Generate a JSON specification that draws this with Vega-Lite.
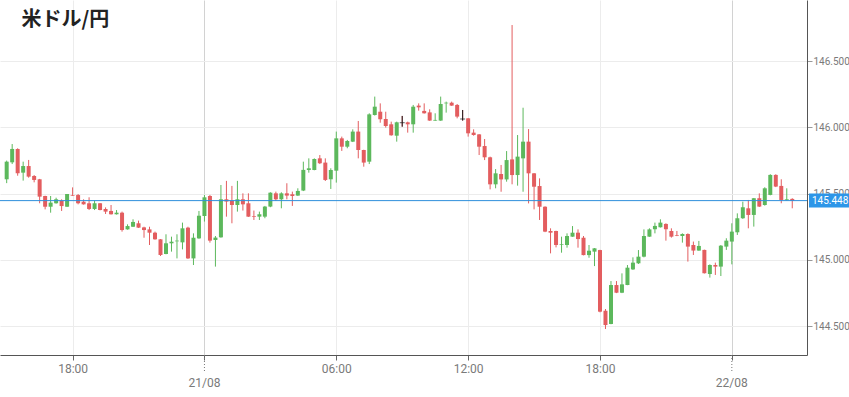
{
  "$schema": "https://vega.github.io/schema/vega-lite/v6.json",
  "width": 807,
  "height": 355,
  "autosize": {"type": "none"},
  "padding": {"left": 0, "top": 0, "right": 42, "bottom": 42},
  "background": "white",
  "config": {"view": {"stroke": null}, "font": "Roboto"},
  "title": {"text": "米ドル/円", "anchor": "start", "offset": -30, "dx": 22, "fontSize": 20, "fontWeight": "bold", "font": "Noto Sans CJK JP", "color": "#222222"},
  "layer": [
    {
      "data": {"values": [
        {"t": "2024-08-20T15:00", "o": 145.609, "h": 145.750, "l": 145.580, "c": 145.742},
        {"t": "2024-08-20T15:15", "o": 145.737, "h": 145.875, "l": 145.724, "c": 145.838},
        {"t": "2024-08-20T15:30", "o": 145.838, "h": 145.843, "l": 145.636, "c": 145.654},
        {"t": "2024-08-20T15:45", "o": 145.659, "h": 145.742, "l": 145.599, "c": 145.709},
        {"t": "2024-08-20T16:00", "o": 145.709, "h": 145.755, "l": 145.621, "c": 145.629},
        {"t": "2024-08-20T16:15", "o": 145.634, "h": 145.641, "l": 145.586, "c": 145.604},
        {"t": "2024-08-20T16:30", "o": 145.609, "h": 145.612, "l": 145.428, "c": 145.478},
        {"t": "2024-08-20T16:45", "o": 145.483, "h": 145.485, "l": 145.382, "c": 145.402},
        {"t": "2024-08-20T17:00", "o": 145.402, "h": 145.483, "l": 145.357, "c": 145.433},
        {"t": "2024-08-20T17:15", "o": 145.428, "h": 145.470, "l": 145.425, "c": 145.458},
        {"t": "2024-08-20T17:30", "o": 145.448, "h": 145.458, "l": 145.370, "c": 145.407},
        {"t": "2024-08-20T17:45", "o": 145.402, "h": 145.498, "l": 145.400, "c": 145.498},
        {"t": "2024-08-20T18:00", "o": 145.490, "h": 145.548, "l": 145.484, "c": 145.485},
        {"t": "2024-08-20T18:15", "o": 145.490, "h": 145.498, "l": 145.420, "c": 145.428},
        {"t": "2024-08-20T18:30", "o": 145.440, "h": 145.458, "l": 145.418, "c": 145.420},
        {"t": "2024-08-20T18:45", "o": 145.428, "h": 145.473, "l": 145.377, "c": 145.385},
        {"t": "2024-08-20T19:00", "o": 145.385, "h": 145.448, "l": 145.377, "c": 145.428},
        {"t": "2024-08-20T19:15", "o": 145.428, "h": 145.430, "l": 145.375, "c": 145.377},
        {"t": "2024-08-20T19:30", "o": 145.385, "h": 145.397, "l": 145.347, "c": 145.365},
        {"t": "2024-08-20T19:45", "o": 145.370, "h": 145.415, "l": 145.343, "c": 145.345},
        {"t": "2024-08-20T20:00", "o": 145.345, "h": 145.377, "l": 145.343, "c": 145.357},
        {"t": "2024-08-20T20:15", "o": 145.357, "h": 145.365, "l": 145.214, "c": 145.226},
        {"t": "2024-08-20T20:30", "o": 145.231, "h": 145.269, "l": 145.229, "c": 145.256},
        {"t": "2024-08-20T20:45", "o": 145.251, "h": 145.307, "l": 145.249, "c": 145.287},
        {"t": "2024-08-20T21:00", "o": 145.277, "h": 145.297, "l": 145.242, "c": 145.244},
        {"t": "2024-08-20T21:15", "o": 145.246, "h": 145.251, "l": 145.168, "c": 145.226},
        {"t": "2024-08-20T21:30", "o": 145.231, "h": 145.251, "l": 145.113, "c": 145.206},
        {"t": "2024-08-20T21:45", "o": 145.206, "h": 145.214, "l": 145.153, "c": 145.156},
        {"t": "2024-08-20T22:00", "o": 145.156, "h": 145.158, "l": 145.030, "c": 145.038},
        {"t": "2024-08-20T22:15", "o": 145.045, "h": 145.194, "l": 145.043, "c": 145.126},
        {"t": "2024-08-20T22:30", "o": 145.126, "h": 145.176, "l": 145.063, "c": 145.138},
        {"t": "2024-08-20T22:45", "o": 145.141, "h": 145.194, "l": 145.012, "c": 145.146},
        {"t": "2024-08-20T23:00", "o": 145.133, "h": 145.282, "l": 145.080, "c": 145.239},
        {"t": "2024-08-20T23:15", "o": 145.244, "h": 145.251, "l": 145.008, "c": 145.012},
        {"t": "2024-08-20T23:30", "o": 145.012, "h": 145.201, "l": 144.962, "c": 145.168},
        {"t": "2024-08-20T23:45", "o": 145.163, "h": 145.370, "l": 145.160, "c": 145.334},
        {"t": "2024-08-21T00:00", "o": 145.332, "h": 145.491, "l": 145.290, "c": 145.473},
        {"t": "2024-08-21T00:15", "o": 145.483, "h": 145.491, "l": 145.131, "c": 145.146},
        {"t": "2024-08-21T00:30", "o": 145.151, "h": 145.181, "l": 144.950, "c": 145.169},
        {"t": "2024-08-21T00:45", "o": 145.171, "h": 145.566, "l": 145.168, "c": 145.458},
        {"t": "2024-08-21T01:00", "o": 145.458, "h": 145.597, "l": 145.327, "c": 145.441},
        {"t": "2024-08-21T01:15", "o": 145.448, "h": 145.559, "l": 145.277, "c": 145.415},
        {"t": "2024-08-21T01:30", "o": 145.415, "h": 145.597, "l": 145.365, "c": 145.458},
        {"t": "2024-08-21T01:45", "o": 145.458, "h": 145.503, "l": 145.373, "c": 145.420},
        {"t": "2024-08-21T02:00", "o": 145.428, "h": 145.503, "l": 145.325, "c": 145.327},
        {"t": "2024-08-21T02:15", "o": 145.332, "h": 145.373, "l": 145.302, "c": 145.327},
        {"t": "2024-08-21T02:30", "o": 145.327, "h": 145.365, "l": 145.302, "c": 145.345},
        {"t": "2024-08-21T02:45", "o": 145.327, "h": 145.408, "l": 145.315, "c": 145.403},
        {"t": "2024-08-21T03:00", "o": 145.403, "h": 145.511, "l": 145.398, "c": 145.508},
        {"t": "2024-08-21T03:15", "o": 145.503, "h": 145.516, "l": 145.446, "c": 145.458},
        {"t": "2024-08-21T03:30", "o": 145.458, "h": 145.511, "l": 145.390, "c": 145.503},
        {"t": "2024-08-21T03:45", "o": 145.503, "h": 145.579, "l": 145.458, "c": 145.486},
        {"t": "2024-08-21T04:00", "o": 145.496, "h": 145.516, "l": 145.408, "c": 145.483},
        {"t": "2024-08-21T04:15", "o": 145.486, "h": 145.541, "l": 145.484, "c": 145.521},
        {"t": "2024-08-21T04:30", "o": 145.524, "h": 145.742, "l": 145.520, "c": 145.680},
        {"t": "2024-08-21T04:45", "o": 145.679, "h": 145.767, "l": 145.659, "c": 145.692},
        {"t": "2024-08-21T05:00", "o": 145.679, "h": 145.767, "l": 145.677, "c": 145.762},
        {"t": "2024-08-21T05:15", "o": 145.767, "h": 145.792, "l": 145.724, "c": 145.730},
        {"t": "2024-08-21T05:30", "o": 145.735, "h": 145.767, "l": 145.596, "c": 145.604},
        {"t": "2024-08-21T05:45", "o": 145.609, "h": 145.692, "l": 145.536, "c": 145.679},
        {"t": "2024-08-21T06:00", "o": 145.674, "h": 145.969, "l": 145.584, "c": 145.918},
        {"t": "2024-08-21T06:15", "o": 145.918, "h": 145.931, "l": 145.823, "c": 145.855},
        {"t": "2024-08-21T06:30", "o": 145.855, "h": 145.906, "l": 145.843, "c": 145.898},
        {"t": "2024-08-21T06:45", "o": 145.893, "h": 145.986, "l": 145.890, "c": 145.969},
        {"t": "2024-08-21T07:00", "o": 145.969, "h": 146.049, "l": 145.767, "c": 145.830},
        {"t": "2024-08-21T07:15", "o": 145.830, "h": 145.832, "l": 145.704, "c": 145.735},
        {"t": "2024-08-21T07:30", "o": 145.742, "h": 146.107, "l": 145.724, "c": 146.099},
        {"t": "2024-08-21T07:45", "o": 146.094, "h": 146.233, "l": 146.090, "c": 146.157},
        {"t": "2024-08-21T08:00", "o": 146.119, "h": 146.182, "l": 146.036, "c": 146.062},
        {"t": "2024-08-21T08:15", "o": 146.064, "h": 146.119, "l": 145.999, "c": 146.011},
        {"t": "2024-08-21T08:30", "o": 146.024, "h": 146.044, "l": 145.938, "c": 145.941},
        {"t": "2024-08-21T08:45", "o": 145.938, "h": 146.044, "l": 145.893, "c": 146.039},
        {"t": "2024-08-21T09:00", "o": 146.036, "h": 146.087, "l": 146.006, "c": 146.036},
        {"t": "2024-08-21T09:15", "o": 146.039, "h": 146.044, "l": 145.961, "c": 146.024},
        {"t": "2024-08-21T09:30", "o": 146.024, "h": 146.170, "l": 145.961, "c": 146.157},
        {"t": "2024-08-21T09:45", "o": 146.165, "h": 146.182, "l": 146.127, "c": 146.152},
        {"t": "2024-08-21T10:00", "o": 146.125, "h": 146.182, "l": 146.105, "c": 146.107},
        {"t": "2024-08-21T10:15", "o": 146.114, "h": 146.137, "l": 146.050, "c": 146.052},
        {"t": "2024-08-21T10:30", "o": 146.052, "h": 146.107, "l": 146.050, "c": 146.057},
        {"t": "2024-08-21T10:45", "o": 146.052, "h": 146.233, "l": 146.050, "c": 146.177},
        {"t": "2024-08-21T11:00", "o": 146.182, "h": 146.195, "l": 146.112, "c": 146.187},
        {"t": "2024-08-21T11:15", "o": 146.187, "h": 146.195, "l": 146.163, "c": 146.165},
        {"t": "2024-08-21T11:30", "o": 146.170, "h": 146.177, "l": 146.069, "c": 146.082},
        {"t": "2024-08-21T11:45", "o": 146.064, "h": 146.132, "l": 146.052, "c": 146.064},
        {"t": "2024-08-21T12:00", "o": 146.069, "h": 146.071, "l": 145.931, "c": 145.956},
        {"t": "2024-08-21T12:15", "o": 145.961, "h": 145.986, "l": 145.938, "c": 145.943},
        {"t": "2024-08-21T12:30", "o": 145.948, "h": 145.950, "l": 145.792, "c": 145.855},
        {"t": "2024-08-21T12:45", "o": 145.860, "h": 145.913, "l": 145.754, "c": 145.775},
        {"t": "2024-08-21T13:00", "o": 145.775, "h": 145.780, "l": 145.533, "c": 145.571},
        {"t": "2024-08-21T13:15", "o": 145.571, "h": 145.686, "l": 145.541, "c": 145.654},
        {"t": "2024-08-21T13:30", "o": 145.649, "h": 145.717, "l": 145.515, "c": 145.608},
        {"t": "2024-08-21T13:45", "o": 145.608, "h": 145.822, "l": 145.591, "c": 145.754},
        {"t": "2024-08-21T14:00", "o": 145.759, "h": 146.773, "l": 145.571, "c": 145.641},
        {"t": "2024-08-21T14:15", "o": 145.641, "h": 145.943, "l": 145.561, "c": 145.780},
        {"t": "2024-08-21T14:30", "o": 145.767, "h": 146.149, "l": 145.515, "c": 145.893},
        {"t": "2024-08-21T14:45", "o": 145.893, "h": 145.988, "l": 145.427, "c": 145.654},
        {"t": "2024-08-21T15:00", "o": 145.654, "h": 145.656, "l": 145.382, "c": 145.553},
        {"t": "2024-08-21T15:15", "o": 145.558, "h": 145.616, "l": 145.302, "c": 145.402},
        {"t": "2024-08-21T15:30", "o": 145.402, "h": 145.405, "l": 145.210, "c": 145.214},
        {"t": "2024-08-21T15:45", "o": 145.219, "h": 145.239, "l": 145.050, "c": 145.206},
        {"t": "2024-08-21T16:00", "o": 145.219, "h": 145.221, "l": 145.095, "c": 145.113},
        {"t": "2024-08-21T16:15", "o": 145.115, "h": 145.176, "l": 145.055, "c": 145.120},
        {"t": "2024-08-21T16:30", "o": 145.113, "h": 145.201, "l": 145.093, "c": 145.181},
        {"t": "2024-08-21T16:45", "o": 145.176, "h": 145.256, "l": 145.175, "c": 145.206},
        {"t": "2024-08-21T17:00", "o": 145.206, "h": 145.231, "l": 145.093, "c": 145.158},
        {"t": "2024-08-21T17:15", "o": 145.168, "h": 145.181, "l": 145.035, "c": 145.037},
        {"t": "2024-08-21T17:30", "o": 145.037, "h": 145.113, "l": 145.017, "c": 145.070},
        {"t": "2024-08-21T17:45", "o": 145.063, "h": 145.090, "l": 144.954, "c": 145.088},
        {"t": "2024-08-21T18:00", "o": 145.075, "h": 145.077, "l": 144.605, "c": 144.610},
        {"t": "2024-08-21T18:15", "o": 144.617, "h": 144.630, "l": 144.479, "c": 144.509},
        {"t": "2024-08-21T18:30", "o": 144.517, "h": 144.841, "l": 144.515, "c": 144.811},
        {"t": "2024-08-21T18:45", "o": 144.811, "h": 144.841, "l": 144.750, "c": 144.753},
        {"t": "2024-08-21T19:00", "o": 144.753, "h": 144.899, "l": 144.750, "c": 144.816},
        {"t": "2024-08-21T19:15", "o": 144.811, "h": 144.962, "l": 144.810, "c": 144.942},
        {"t": "2024-08-21T19:30", "o": 144.929, "h": 145.020, "l": 144.925, "c": 144.980},
        {"t": "2024-08-21T19:45", "o": 144.975, "h": 145.075, "l": 144.970, "c": 145.025},
        {"t": "2024-08-21T20:00", "o": 145.025, "h": 145.231, "l": 145.020, "c": 145.181},
        {"t": "2024-08-21T20:15", "o": 145.176, "h": 145.239, "l": 145.175, "c": 145.231},
        {"t": "2024-08-21T20:30", "o": 145.232, "h": 145.282, "l": 145.201, "c": 145.257},
        {"t": "2024-08-21T20:45", "o": 145.247, "h": 145.307, "l": 145.245, "c": 145.282},
        {"t": "2024-08-21T21:00", "o": 145.272, "h": 145.277, "l": 145.146, "c": 145.232},
        {"t": "2024-08-21T21:15", "o": 145.219, "h": 145.239, "l": 145.169, "c": 145.176},
        {"t": "2024-08-21T21:30", "o": 145.186, "h": 145.219, "l": 145.180, "c": 145.181},
        {"t": "2024-08-21T21:45", "o": 145.181, "h": 145.201, "l": 145.131, "c": 145.196},
        {"t": "2024-08-21T22:00", "o": 145.196, "h": 145.201, "l": 144.988, "c": 145.101},
        {"t": "2024-08-21T22:15", "o": 145.113, "h": 145.139, "l": 145.038, "c": 145.071},
        {"t": "2024-08-21T22:30", "o": 145.071, "h": 145.144, "l": 145.070, "c": 145.106},
        {"t": "2024-08-21T22:45", "o": 145.076, "h": 145.078, "l": 144.898, "c": 144.900},
        {"t": "2024-08-21T23:00", "o": 144.894, "h": 144.967, "l": 144.867, "c": 144.962},
        {"t": "2024-08-21T23:15", "o": 144.962, "h": 144.980, "l": 144.887, "c": 144.950},
        {"t": "2024-08-21T23:30", "o": 144.950, "h": 145.113, "l": 144.879, "c": 145.108},
        {"t": "2024-08-21T23:45", "o": 145.101, "h": 145.164, "l": 145.076, "c": 145.146},
        {"t": "2024-08-22T00:00", "o": 145.139, "h": 145.277, "l": 144.967, "c": 145.214},
        {"t": "2024-08-22T00:15", "o": 145.209, "h": 145.352, "l": 145.189, "c": 145.315},
        {"t": "2024-08-22T00:30", "o": 145.315, "h": 145.440, "l": 145.310, "c": 145.398},
        {"t": "2024-08-22T00:45", "o": 145.390, "h": 145.453, "l": 145.239, "c": 145.340},
        {"t": "2024-08-22T01:00", "o": 145.340, "h": 145.468, "l": 145.252, "c": 145.466},
        {"t": "2024-08-22T01:15", "o": 145.466, "h": 145.503, "l": 145.400, "c": 145.403},
        {"t": "2024-08-22T01:30", "o": 145.415, "h": 145.549, "l": 145.410, "c": 145.541},
        {"t": "2024-08-22T01:45", "o": 145.491, "h": 145.647, "l": 145.488, "c": 145.642},
        {"t": "2024-08-22T02:00", "o": 145.642, "h": 145.647, "l": 145.550, "c": 145.554},
        {"t": "2024-08-22T02:15", "o": 145.559, "h": 145.609, "l": 145.428, "c": 145.453},
        {"t": "2024-08-22T02:30", "o": 145.451, "h": 145.541, "l": 145.448, "c": 145.458},
        {"t": "2024-08-22T02:45", "o": 145.461, "h": 145.466, "l": 145.390, "c": 145.446}
      ]},
      "encoding": {
        "x": {
          "field": "t", "type": "temporal", "title": null,
          "scale": {"domain": [
            {"year": 2024, "month": 8, "date": 20, "hours": 14, "minutes": 55, "seconds": 25},
            {"year": 2024, "month": 8, "date": 22, "hours": 3, "minutes": 11, "seconds": 35}
          ]},
          "axis": {
            "values": [
              {"year": 2024, "month": 8, "date": 20, "hours": 18},
              {"year": 2024, "month": 8, "date": 21, "hours": 0},
              {"year": 2024, "month": 8, "date": 21, "hours": 6},
              {"year": 2024, "month": 8, "date": 21, "hours": 12},
              {"year": 2024, "month": 8, "date": 21, "hours": 18},
              {"year": 2024, "month": 8, "date": 22, "hours": 0}
            ],
            "labelExpr": "hours(datum.value) == 0 ? '' : timeFormat(datum.value, '%H:%M')",
            "labelFont": "Roboto", "labelFontSize": 12, "labelColor": "#7a7a7a", "labelPadding": 3,
            "tickSize": 5, "tickColor": "#666666",
            "domainColor": "#555555",
            "grid": true,
            "gridColor": {"condition": {"test": "hours(datum.value) == 0", "value": "#d2d2d2"}, "value": "#ececec"}
          }
        },
        "color": {
          "condition": {"test": "datum.c > datum.o", "value": "#5cb85c"},
          "value": "#e35d5f"
        }
      },
      "layer": [
        {
          "mark": {"type": "rule", "strokeWidth": 1},
          "encoding": {
            "y": {
              "field": "l", "type": "quantitative", "title": null,
              "scale": {"domain": [144.283, 146.962], "nice": false, "zero": false},
              "axis": {
                "orient": "right", "values": [144.5, 145, 145.5, 146, 146.5], "format": ".3f",
                "labelFont": "Roboto", "labelFontSize": 10, "labelColor": "#7a7a7a", "labelPadding": 1,
                "tickSize": 5, "tickColor": "#999999", "domainColor": "#555555", "gridColor": "#ececec"
              }
            },
            "y2": {"field": "h"}
          }
        },
        {
          "mark": {"type": "bar", "width": 4},
          "encoding": {
            "y": {"field": "o", "type": "quantitative", "title": null},
            "y2": {"field": "c"}
          }
        },
        {
          "transform": [{"filter": "datum.c == datum.o"}],
          "mark": {"type": "rule", "strokeWidth": 1, "color": "#1a1a1a"},
          "encoding": {
            "color": {"value": "#1a1a1a"},
            "y": {"field": "l", "type": "quantitative", "title": null},
            "y2": {"field": "h"}
          }
        },
        {
          "transform": [{"filter": "datum.c == datum.o"}],
          "mark": {"type": "tick", "orient": "horizontal", "size": 5, "thickness": 1},
          "encoding": {
            "color": {"value": "#1a1a1a"},
            "y": {"field": "c", "type": "quantitative", "title": null}
          }
        }
      ]
    },
    {
      "data": {"values": [{"d": "2024-08-21T00:00"}, {"d": "2024-08-22T00:00"}]},
      "mark": {"type": "rule", "color": "#777777", "strokeWidth": 1, "strokeDash": [1, 2], "y2Offset": 17},
      "encoding": {
        "x": {"field": "d", "type": "temporal"},
        "y": {"value": "height"},
        "y2": {"value": "height"}
      }
    },
    {
      "data": {"values": [{"d": "2024-08-21T00:00"}, {"d": "2024-08-22T00:00"}]},
      "mark": {"type": "text", "baseline": "top", "align": "center", "font": "Roboto", "fontSize": 12, "color": "#7a7a7a", "dy": 23},
      "encoding": {
        "x": {"field": "d", "type": "temporal"},
        "y": {"value": "height"},
        "text": {"field": "d", "type": "temporal", "format": "%d/%m"}
      }
    },
    {
      "data": {"values": [{"price": 145.448}]},
      "mark": {"type": "rule", "color": "#2f8fdc", "strokeWidth": 1},
      "encoding": {"y": {"field": "price", "type": "quantitative", "title": null}}
    },
    {
      "data": {"values": [{"price": 145.448}]},
      "mark": {"type": "rule", "color": "#2d96e8", "strokeWidth": 14, "strokeCap": "butt", "xOffset": 2, "x2Offset": 42},
      "encoding": {
        "y": {"field": "price", "type": "quantitative", "title": null},
        "x": {"value": "width"},
        "x2": {"value": "width"}
      }
    },
    {
      "data": {"values": [{"price": 145.448}]},
      "mark": {"type": "text", "align": "left", "baseline": "middle", "color": "white", "font": "Roboto", "fontSize": 10, "dx": 5},
      "encoding": {
        "y": {"field": "price", "type": "quantitative", "title": null},
        "x": {"value": "width"},
        "text": {"field": "price", "type": "quantitative", "format": ".3f"}
      }
    }
  ]
}
